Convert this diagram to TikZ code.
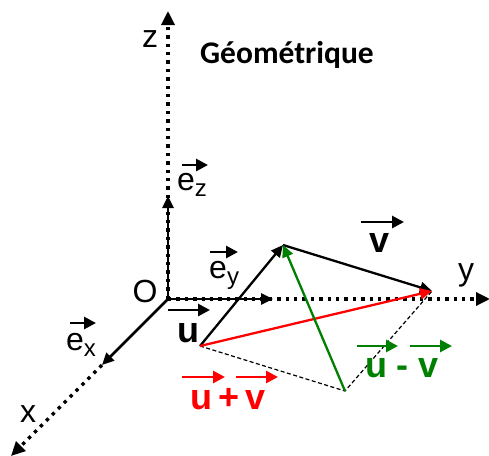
\documentclass[tikz,border=0pt]{standalone}
\usepackage{fontspec}
\setmainfont{Liberation Sans}
\newfontfamily\titlefont{Carlito}
\usetikzlibrary{arrows.meta}
\newcommand\subtxt[1]{\raisebox{-6pt}{\fontsize{24}{24}\selectfont #1}}
\definecolor{vgreen}{RGB}{0,128,0}
\begin{document}
\begin{tikzpicture}[x=1pt,y=-1pt,
  axisdots/.style={line width=3.3pt, dash pattern=on 3.4pt off 5pt, -{Triangle[length=14pt,width=13pt]}},
  unitvec/.style={line width=2.5pt,-{Triangle[length=12pt,width=11pt]}},
  vecline/.style={line width=2.3pt,-{Triangle[length=12pt,width=11pt]}},
  overarrow/.style={line width=2.8pt,-{Triangle[length=12pt,width=12pt]}},
  guide/.style={line width=1.2pt, dash pattern=on 4pt off 2.5pt},
  reg/.style={inner sep=0pt, anchor=base, font=\fontsize{32}{32}\selectfont},
  regw/.style={inner sep=0pt, anchor=base west, font=\fontsize{32}{32}\selectfont},
  bld/.style={inner sep=0pt, anchor=base, font=\fontsize{36}{36}\selectfont\bfseries},
]
\useasboundingbox (0,0) rectangle (489,455);
% points
\coordinate (O) at (168,299);
\coordinate (Ztip) at (168,11);
\coordinate (Ytip) at (490,299);
\coordinate (Xtip) at (11,456);
\coordinate (EZ) at (168,196);
\coordinate (EY) at (273,299);
\coordinate (EX) at (102,365);
\coordinate (A) at (200,346);
\coordinate (B) at (283,245);
\coordinate (C) at (432,291);
\coordinate (D) at (345,391);
% axes
\draw[axisdots] (O) -- (Ztip);
\draw[axisdots] (O) -- (Ytip);
\draw[axisdots] (EX) -- (Xtip);
\draw[unitvec] (O) -- (EZ);
\draw[unitvec] (O) -- (EY);
\draw[unitvec] (O) -- (EX);
% parallelogram guides
\draw[guide] (A) -- (D) -- (C);
% vectors
\draw[vecline] (A) -- (B);
\draw[vecline] (B) -- (C);
\draw[vecline, red] (A) -- (C);
\draw[vecline, vgreen] (D) -- (B);
% labels
\node[reg] (lz) at (150,47) {z};
\node[inner sep=0pt, anchor=base, font=\titlefont\bfseries\fontsize{31.5}{31.5}\selectfont] (title) at (287,63) {Géométrique};
\node[regw] (lez) at (177,190) {e\subtxt{z}};
\draw[overarrow] (182,165) -- (208,165);
\node[regw] (ley) at (209,278) {e\subtxt{y}};
\draw[overarrow] (210,252) -- (238,252);
\node[regw] (lex) at (66,350) {e\subtxt{x}};
\draw[overarrow] (70,323) -- (96,323);
\node[reg] (lO) at (145,302) {O};
\node[reg] (lx) at (28,422) {x};
\node[reg] (ly) at (466,280) {y};
\node[bld] (lu) at (188,342) {u};
\draw[overarrow] (168,310) -- (210,310);
\node[bld] (lv) at (380,252) {v};
\draw[overarrow] (361,222) -- (404,222);
\node[bld, red] (lsum) at (228,409) {u\hspace{6pt}+\hspace{6pt}v};
\draw[overarrow, red] (182,377) -- (225,377);
\draw[overarrow, red] (236,377) -- (278,377);
\node[bld, vgreen] (ldiff) at (402,377) {u - v};
\draw[overarrow, vgreen] (357,346) -- (398,346);
\draw[overarrow, vgreen] (410,346) -- (452,346);
\end{tikzpicture}
\end{document}
